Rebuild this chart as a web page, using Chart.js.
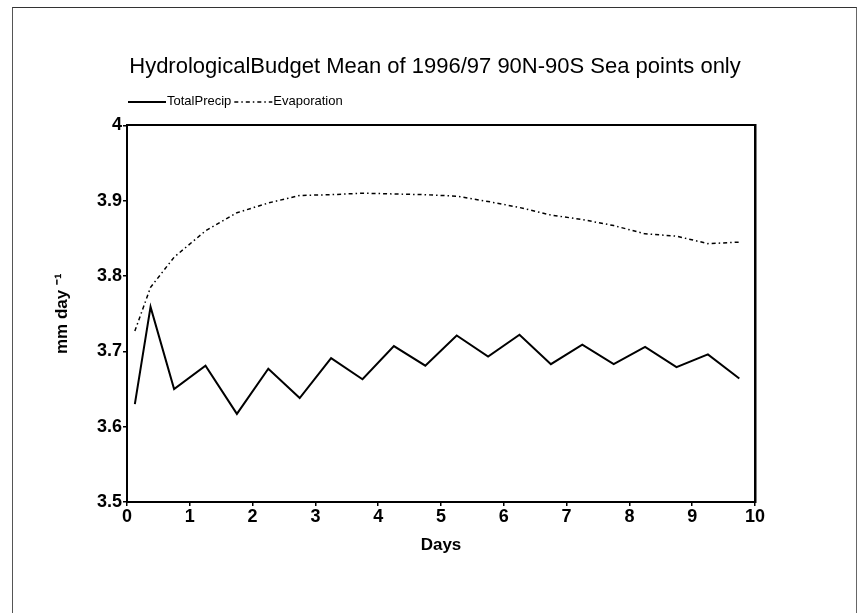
<!DOCTYPE html>
<html>
<head>
<meta charset="utf-8">
<script src="https://cdn.jsdelivr.net/npm/chart.js@4"></script>
<style>
  html, body { margin: 0; padding: 0; background: #fff; }
  #frame { position: absolute; left: 12px; top: 7px; width: 843px; height: 640px;
           border-left: 1px solid #555; border-top: 1px solid #333; border-right: 1px solid #666; }
  #wrap { position: absolute; left: 0; top: 0; width: 860px; height: 613px; }
</style>
</head>
<body>
<div id="frame"></div>
<div id="wrap"><canvas id="grafico" width="860" height="613"></canvas></div>
<script>
// Días (eje x) y valores
const dias = [0.125, 0.375, 0.75, 1.25, 1.75, 2.25, 2.75, 3.25, 3.75, 4.25, 4.75,
  5.25, 5.75, 6.25, 6.75, 7.25, 7.75, 8.25, 8.75, 9.25, 9.75];
const totalPrecip = [3.630, 3.759, 3.650, 3.681, 3.617, 3.677, 3.638, 3.691, 3.663, 3.707, 3.681,
  3.721, 3.693, 3.722, 3.683, 3.709, 3.683, 3.706, 3.679, 3.696, 3.664];
const evaporation = [3.727, 3.785, 3.825, 3.860, 3.884, 3.897, 3.907, 3.908, 3.910, 3.909, 3.908,
  3.906, 3.899, 3.891, 3.881, 3.875, 3.867, 3.856, 3.853, 3.843, 3.845];
const nombres = ["TotalPrecip", "Evaporation"];
const tituloTexto = "HydrologicalBudget Mean of 1996/97 90N-90S Sea points only";

const puntos = (ys) => dias.map((d, i) => ({ x: d, y: ys[i] }));
const fuente = "'Liberation Sans', Arial, sans-serif";

// Leyenda simple alineada con el borde izquierdo del área del gráfico
const leyendaPlugin = {
  id: "leyendaLinea",
  afterDraw(chart) {
    const ctx = chart.ctx;
    let x = chart.chartArea.left + 1;
    const y = 101;
    ctx.save();
    ctx.font = "13px " + fuente;
    ctx.textBaseline = "middle";
    chart.data.datasets.forEach((ds) => {
      ctx.strokeStyle = "#000";
      ctx.lineWidth = ds.borderWidth;
      ctx.setLineDash(ds.borderDash || []);
      ctx.beginPath();
      ctx.moveTo(x, y + 1);
      ctx.lineTo(x + 38, y + 1);
      ctx.stroke();
      ctx.setLineDash([]);
      ctx.fillStyle = "#000";
      ctx.fillText(ds.label, x + 39, y);
      x += 39 + ctx.measureText(ds.label).width + 3;
    });
    ctx.restore();
  }
};

const ctx = document.getElementById("grafico").getContext("2d");
new Chart(ctx, {
  type: "scatter",
  data: {
    datasets: [{
      label: nombres[0],
      data: puntos(totalPrecip),
      showLine: true,
      borderColor: "#000",
      borderWidth: 2,
      pointRadius: 0,
      tension: 0,
    }, {
      label: nombres[1],
      data: puntos(evaporation),
      showLine: true,
      borderColor: "#000",
      borderWidth: 1.5,
      borderDash: [4, 3, 1.5, 3],
      pointRadius: 0,
      tension: 0,
    }],
  },
  options: {
    responsive: false,
    animation: false,
    layout: { padding: { left: 48, right: 38, top: 0, bottom: 57 } },
    plugins: {
      legend: { display: false },
      tooltip: { enabled: false },
      title: {
        display: true,
        text: tituloTexto,
        color: "#000",
        font: { family: fuente, size: 22, weight: "normal" },
        padding: { top: 54, bottom: 45 },
      },
    },
    scales: {
      x: {
        type: "linear",
        position: "bottom",
        min: 0,
        max: 10,
        ticks: {
          stepSize: 1,
          color: "#000",
          padding: 0,
          font: { family: fuente, size: 18, weight: "bold" },
        },
        grid: { drawOnChartArea: false, drawTicks: true, tickLength: 4, color: "#000", lineWidth: 1.5 },
        border: { display: true, color: "#000", width: 2 },
        title: {
          display: true,
          text: "Days",
          color: "#000",
          padding: { top: 4, bottom: 0 },
          font: { family: fuente, size: 17, weight: "bold" },
        },
        afterFit: (scale) => { scale.height = 54; },
      },
      xTop: {
        type: "linear",
        position: "top",
        min: 0,
        max: 10,
        ticks: { display: false },
        grid: { display: false },
        border: { display: true, color: "#000", width: 2 },
        afterFit: (scale) => { scale.height = 0; },
      },
      y: {
        min: 3.5,
        max: 4,
        ticks: {
          stepSize: 0.1,
          color: "#000",
          padding: 1,
          font: { family: fuente, size: 18, weight: "bold" },
          callback: (v) => String(+v.toFixed(1)),
        },
        grid: { drawOnChartArea: false, drawTicks: true, tickLength: 4, color: "#000", lineWidth: 1.5 },
        border: { display: true, color: "#000", width: 2 },
        title: {
          display: true,
          text: "mm day \u207B\u00B9",
          color: "#000",
          padding: { top: 4, bottom: 0 },
          font: { family: fuente, size: 17, weight: "bold" },
        },
        afterFit: (scale) => { scale.width = 79; },
      },
      yRight: {
        position: "right",
        min: 3.5,
        max: 4,
        ticks: { display: false },
        grid: { display: false },
        border: { display: true, color: "#000", width: 2.5 },
        afterFit: (scale) => { scale.width = 67; },
      },
    },
  },
  plugins: [leyendaPlugin],
});
</script>
</body>
</html>
